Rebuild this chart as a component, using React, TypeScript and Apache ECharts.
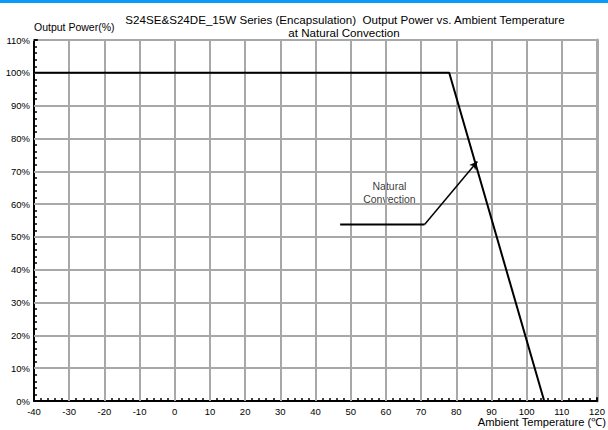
import React, { useEffect, useRef } from "react";
import * as echarts from "echarts";

const xTickValues = [-40, -30, -20, -10, 0, 10, 20, 30, 40, 50, 60, 70, 80, 90, 100, 110, 120];
const yTickValues = [0, 10, 20, 30, 40, 50, 60, 70, 80, 90, 100, 110];
const deratingCurve: [number, number][] = [
  [-40, 100],
  [78, 100],
  [105, 0],
];
const calloutLine: [number, number][] = [
  [47, 53.8],
  [71, 53.8],
];
const calloutArrowEnd: [number, number] = [86, 73];
const calloutLabelPos: [number, number] = [61, 63.4];
const calloutLabel = "Natural\nConvection";
const titleLine1 = "S24SE&S24DE_15W Series (Encapsulation)  Output Power vs. Ambient Temperature";
const titleLine2 = "at Natural Convection";
const yAxisTitle = "Output Power(%)";
const xAxisTitle = "Ambient Temperature (℃)";

const FONT = "'Liberation Sans', Arial, sans-serif";
const GRID_GRAY = "#a8a8a8";

export default function App() {
  const ref = useRef<HTMLDivElement>(null);
  useEffect(() => {
    if (!ref.current) return;
    const chart = echarts.init(ref.current, undefined, { renderer: "svg" });
    const xMin = xTickValues[0];
    const xMax = xTickValues[xTickValues.length - 1];
    const yMin = yTickValues[0];
    const yMax = yTickValues[yTickValues.length - 1];
    const gridMarks = [
      ...xTickValues.slice(1, -1).map((v) => ({ xAxis: v })),
      ...yTickValues.slice(1, -1).map((v) => ({ yAxis: v })),
    ];
    chart.setOption({
      animation: false,
      grid: { left: 34, right: 11, top: 40, bottom: 29 },
      xAxis: [
        {
          type: "value",
          min: xMin,
          max: xMax,
          interval: 10,
          position: "bottom",
          axisLine: { show: true, onZero: false, lineStyle: { color: "#000", width: 2 } },
          axisTick: { show: true, inside: true, length: 4, lineStyle: { color: "#000", width: 1.5 } },
          splitLine: { show: true, lineStyle: { color: GRID_GRAY, width: 2 } },
          axisLabel: { color: "#000", fontSize: 9.5, fontFamily: FONT, margin: 5 },
        },
        {
          type: "value",
          min: xMin,
          max: xMax,
          interval: 10,
          position: "top",
          axisLine: { show: true, onZero: false, lineStyle: { color: GRID_GRAY, width: 2 } },
          axisTick: { show: false },
          splitLine: { show: false },
          axisLabel: { show: false },
        },
        {
          type: "value",
          min: xMin,
          max: xMax,
          interval: 2,
          position: "bottom",
          axisLine: { show: false, onZero: false },
          axisTick: { show: true, inside: true, length: 3, lineStyle: { color: "#000", width: 1.5 } },
          splitLine: { show: false },
          axisLabel: { show: false },
        },
      ],
      yAxis: [
        {
          type: "value",
          min: yMin,
          max: yMax,
          interval: 10,
          position: "left",
          axisLine: { show: true, onZero: false, lineStyle: { color: "#000", width: 2 } },
          axisTick: { show: true, inside: true, length: 4, lineStyle: { color: "#000", width: 1.5 } },
          splitLine: { show: true, lineStyle: { color: GRID_GRAY, width: 2 } },
          axisLabel: { color: "#000", fontSize: 9.5, fontFamily: FONT, margin: 4, formatter: "{value}%" },
        },
        {
          type: "value",
          min: yMin,
          max: yMax,
          interval: 10,
          position: "right",
          axisLine: { show: true, onZero: false, lineStyle: { color: GRID_GRAY, width: 3 } },
          axisTick: { show: false },
          splitLine: { show: false },
          axisLabel: { show: false },
        },
        {
          type: "value",
          min: yMin,
          max: yMax,
          interval: 2,
          position: "left",
          axisLine: { show: false, onZero: false },
          axisTick: { show: true, inside: true, length: 3, lineStyle: { color: "#000", width: 1.5 } },
          splitLine: { show: false },
          axisLabel: { show: false },
        },
      ],
      series: [
        {
          type: "scatter",
          data: [calloutLabelPos],
          symbolSize: 2,
          itemStyle: { color: "#ffffff" },
          z: 1,
          label: {
            show: true,
            position: "inside",
            formatter: calloutLabel,
            color: "#000",
            fontSize: 10.5,
            lineHeight: 13,
            fontFamily: FONT,
            align: "center",
          },
          markLine: {
            silent: true,
            symbol: ["none", "none"],
            label: { show: false },
            lineStyle: { color: GRID_GRAY, width: 2, type: "solid", opacity: 1 },
            data: gridMarks,
          },
        },
        {
          type: "line",
          data: deratingCurve,
          symbol: "none",
          lineStyle: { color: "#000", width: 2 },
          z: 5,
        },
        {
          type: "line",
          data: calloutLine,
          symbol: "none",
          lineStyle: { color: "#000", width: 2 },
          z: 5,
          markLine: {
            silent: true,
            symbol: ["none", "arrow"],
            symbolSize: [6, 8],
            label: { show: false },
            lineStyle: { color: "#000", width: 1.5, type: "solid" },
            data: [[{ coord: calloutLine[calloutLine.length - 1] }, { coord: calloutArrowEnd }]],
          },
        },
      ],
      graphic: [
        { type: "rect", shape: { x: 0, y: 0, width: 608, height: 3 }, style: { fill: "#0a99f5" } },
        {
          type: "text",
          x: 345,
          y: 13,
          style: { text: titleLine1, fill: "#000", font: `11.6px ${FONT}`, textAlign: "center" },
        },
        {
          type: "text",
          x: 344,
          y: 26,
          style: { text: titleLine2, fill: "#000", font: `11.6px ${FONT}`, textAlign: "center" },
        },
        {
          type: "text",
          x: 34,
          y: 21,
          style: { text: yAxisTitle, fill: "#000", font: `10.5px ${FONT}`, textAlign: "left" },
        },
        {
          type: "text",
          x: 606,
          y: 416,
          style: { text: xAxisTitle, fill: "#000", font: `11.2px ${FONT}`, textAlign: "right" },
        },
      ],
    });
    return () => chart.dispose();
  }, []);
  return (
    <div
      ref={ref}
      style={{ position: "fixed", left: 0, top: 0, width: 608, height: 430, background: "#fff" }}
    />
  );
}
